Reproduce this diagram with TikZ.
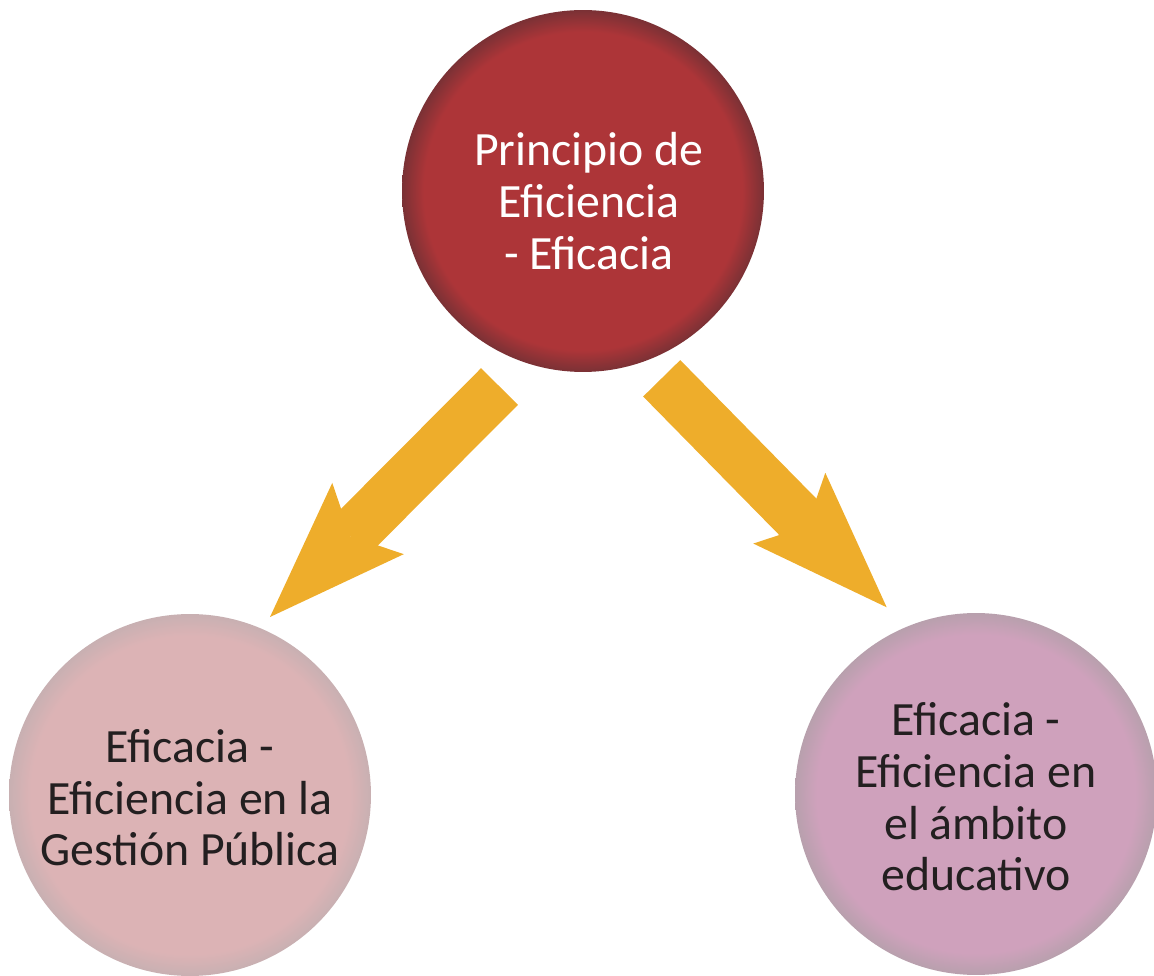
\documentclass[tikz,border=0pt]{standalone}
\usepackage{fontspec}
\setmainfont{Carlito}
\usetikzlibrary{arrows.meta, positioning}

\definecolor{topred}{HTML}{AD3538}
\definecolor{topredrim}{HTML}{7A3135}
\definecolor{leftpink}{HTML}{DCB3B5}
\definecolor{leftpinkrim}{HTML}{C8B0B2}
\definecolor{rightmauve}{HTML}{CFA1BC}
\definecolor{rightmauverim}{HTML}{B8A0AD}
\definecolor{arrowgold}{HTML}{EEAD2B}
\definecolor{textdark}{HTML}{231F20}

\pgfdeclareradialshading{redball}{\pgfpoint{0bp}{0bp}}{color(0bp)=(topred); color(22bp)=(topred); color(25bp)=(topredrim); color(50bp)=(topredrim)}
\pgfdeclareradialshading{pinkball}{\pgfpoint{0bp}{0bp}}{color(0bp)=(leftpink); color(22bp)=(leftpink); color(25bp)=(leftpinkrim); color(50bp)=(leftpinkrim)}
\pgfdeclareradialshading{mauveball}{\pgfpoint{0bp}{0bp}}{color(0bp)=(rightmauve); color(22bp)=(rightmauve); color(25bp)=(rightmauverim); color(50bp)=(rightmauverim)}

\begin{document}
\begin{tikzpicture}[
		x=0.02cm, y=-0.02cm,
		ball/.style={circle, inner sep=0pt, minimum size=7.24cm},
		balltext/.style={align=center, inner sep=0pt, font=\fontsize{27.2}{29.4}\selectfont},
		bigarrow/.style={draw=arrowgold, line width=1.04cm, -{Stealth[length=2.78cm, width=2.02cm, inset=0.5cm, line width=0pt, fill=arrowgold]}}
	]

	\useasboundingbox (0,0) rectangle (1154,976);

	\node[ball, shading=redball] (principio) at (583,191) {};
	\node[ball, shading=pinkball] (gestion) at (190,795) {};
	\node[ball, shading=mauveball] (educativo) at (976,794) {};

	\node[balltext, text=white] (principiotext) at ([xshift=0.12cm, yshift=-0.2cm]principio) {Principio de\\Eficiencia\\- Eficacia};
	\node[balltext, text=textdark] (gestiontext) at ([yshift=-0.06cm]gestion) {Eficacia -\\Eficiencia en la\\Gestión Pública};
	\node[balltext, text=textdark] (educativotext) at ([yshift=-0.06cm]educativo) {Eficacia -\\Eficiencia en\\el ámbito\\educativo};

	\coordinate (l0) at (499.5,386.5);
	\coordinate (l1) at (270,617);
	\coordinate (r0) at (661.7,378.3);
	\coordinate (r1) at (886.7,607.3);

	\foreach \i/\j in {l0/l1, r0/r1}
		\draw[bigarrow] (\i) -- (\j);

\end{tikzpicture}
\end{document}
